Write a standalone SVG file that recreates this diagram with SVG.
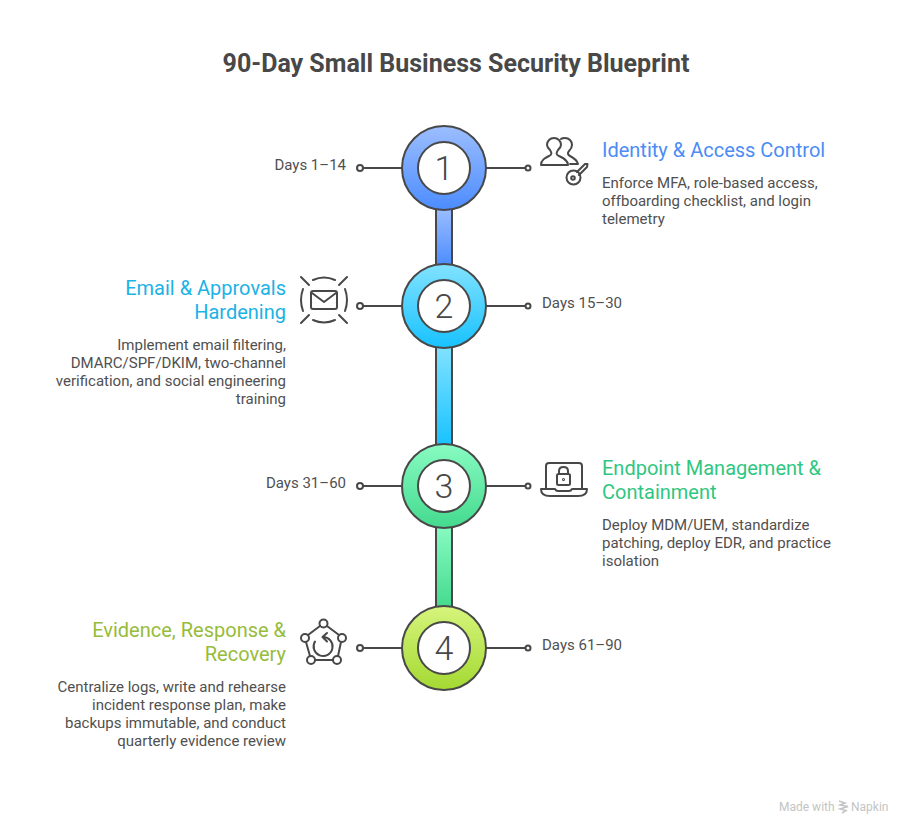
<svg xmlns="http://www.w3.org/2000/svg" width="912" height="834" viewBox="0 0 912 834">
<style>
text{font-family:Roboto,"Liberation Sans",sans-serif}
.title{font-size:25px;font-weight:700;fill:#484848;text-anchor:middle}
.h{font-size:20px}
.b{font-size:15px;fill:#505050}
.d{font-size:15px;fill:#505050}
.e{text-anchor:end}
.n{font-size:34px;font-weight:300;fill:#484848;text-anchor:middle}
.wm{font-size:12px;fill:#c4c4c4}
.l{fill:none;stroke:#484848;stroke-width:2}
.ic{fill:none;stroke:#484848;stroke-width:2;stroke-linecap:round;stroke-linejoin:round}
.dot{fill:#fff;stroke:#484848;stroke-width:2}
.o{stroke:#484848;stroke-width:2}
.in{fill:#fff;stroke:#484848;stroke-width:2}
</style>
<defs>
<linearGradient id="g1" x1="0" y1="0" x2="0" y2="1"><stop offset="0" stop-color="#9CBEFF"/><stop offset="1" stop-color="#4C8CFF"/></linearGradient>
<linearGradient id="g2" x1="0" y1="0" x2="0" y2="1"><stop offset="0" stop-color="#82E2FF"/><stop offset="1" stop-color="#18C2FF"/></linearGradient>
<linearGradient id="g3" x1="0" y1="0" x2="0" y2="1"><stop offset="0" stop-color="#88FBC2"/><stop offset="1" stop-color="#44DA8E"/></linearGradient>
<linearGradient id="g4" x1="0" y1="0" x2="0" y2="1"><stop offset="0" stop-color="#D6F47C"/><stop offset="1" stop-color="#A4D932"/></linearGradient>
</defs>
<rect width="912" height="834" fill="#fff"/>
<text class="title" x="456" y="72">90-Day Small Business Security Blueprint</text>
<g id="connectors">
<rect class="o" x="436" y="208" width="16" height="58" fill="url(#g1)"/>
<rect class="o" x="436" y="346" width="16" height="100" fill="url(#g2)"/>
<rect class="o" x="436" y="526" width="16" height="82" fill="url(#g3)"/>
<path class="l" d="M362 168H402M486 168H526M362 306H402M486 306H526M362 486H402M486 486H526M362 648H402M486 648H526"/>
<circle class="dot" cx="360" cy="168" r="3"/><circle class="dot" cx="528" cy="168" r="2.500"/>
<circle class="dot" cx="360" cy="306" r="3"/><circle class="dot" cx="528" cy="306" r="2.500"/>
<circle class="dot" cx="360" cy="486" r="3"/><circle class="dot" cx="528" cy="486" r="2.500"/>
<circle class="dot" cx="360" cy="648" r="3"/><circle class="dot" cx="528" cy="648" r="2.500"/>
</g>
<g id="node1">
<circle class="o" cx="444" cy="168" r="42" fill="url(#g1)"/><circle class="in" cx="444" cy="168" r="26"/>
<text class="n" x="444" y="180">1</text>
<text class="d e" x="346" y="170">Days 1–14</text>
<text class="h" x="602" y="157" fill="#4C8CF5">Identity &amp; Access Control</text>
<text class="b" x="602" y="188">Enforce MFA, role-based access,</text>
<text class="b" x="602" y="206">offboarding checklist, and login</text>
<text class="b" x="602" y="224">telemetry</text>
<g class="ic">
<path d="M541 165C541 160 545 158 549 156C552 155 552 153 550 150C548 148 547 146 547 145C547 141 550 138 554 138C558 138 561 141 561 145C561 147 560 148 558 150C556 153 556 155 559 156C563 158 568 160 568 165Z"/>
<path d="M561 139C562 138 563 138 565 138C569 138 572 141 572 145C572 147 571 149 569 151C567 153 568 155 570 156C574 158 577 160 578 164H570"/>
<circle cx="573.500" cy="177.500" r="7"/><circle cx="573" cy="178" r="1.800"/>
<path d="M577 172L585 164L587.500 164L587 167L584 170L581 173L579 175"/>
</g>
</g>
<g id="node2">
<circle class="o" cx="444" cy="306" r="42" fill="url(#g2)"/><circle class="in" cx="444" cy="306" r="26"/>
<text class="n" x="444" y="318">2</text>
<text class="d" x="542" y="308">Days 15–30</text>
<text class="h e" x="286" y="295" fill="#1CB2E4">Email &amp; Approvals</text>
<text class="h e" x="286" y="319" fill="#1CB2E4">Hardening</text>
<text class="b e" x="286" y="350">Implement email filtering,</text>
<text class="b e" x="286" y="368">DMARC/SPF/DKIM, two-channel</text>
<text class="b e" x="286" y="386">verification, and social engineering</text>
<text class="b e" x="286" y="404">training</text>
<g class="ic">
<rect x="311" y="291" width="26" height="18" rx="2"/>
<path d="M312 293L324 302L336 293"/>
<path d="M301 277L309 285M347 277L339 285M301 323L309 315M347 323L339 315"/>
<path d="M313 280Q324 275 335 280M313 320Q324 325 335 320M303 289Q299 300 303 311M345 289Q349 300 345 311"/>
</g>
</g>
<g id="node3">
<circle class="o" cx="444" cy="486" r="42" fill="url(#g3)"/><circle class="in" cx="444" cy="486" r="26"/>
<text class="n" x="444" y="498">3</text>
<text class="d e" x="346" y="488">Days 31–60</text>
<text class="h" x="602" y="475" fill="#2FC77F">Endpoint Management &amp;</text>
<text class="h" x="602" y="499" fill="#2FC77F">Containment</text>
<text class="b" x="602" y="530">Deploy MDM/UEM, standardize</text>
<text class="b" x="602" y="548">patching, deploy EDR, and practice</text>
<text class="b" x="602" y="566">isolation</text>
<g class="ic">
<path d="M546 488V466Q546 463 549 463H579Q582 463 582 466V488"/>
<path d="M541 489H555Q556 491 558 491H569Q571 491 572 489H587Q587 496 578 496H550Q541 496 541 489Z"/>
<rect x="557" y="474" width="13" height="11" rx="1.500"/>
<path d="M559 474V471Q559 467 563.500 467Q568 467 568 471V474"/>
<circle cx="563.500" cy="479.500" r="0.500"/>
</g>
</g>
<g id="node4">
<circle class="o" cx="444" cy="648" r="42" fill="url(#g4)"/><circle class="in" cx="444" cy="648" r="26"/>
<text class="n" x="444" y="660">4</text>
<text class="d" x="542" y="650">Days 61–90</text>
<text class="h e" x="286" y="637" fill="#97BC3A">Evidence, Response &amp;</text>
<text class="h e" x="286" y="661" fill="#97BC3A">Recovery</text>
<text class="b e" x="286" y="692">Centralize logs, write and rehearse</text>
<text class="b e" x="286" y="710">incident response plan, make</text>
<text class="b e" x="286" y="728">backups immutable, and conduct</text>
<text class="b e" x="286" y="746">quarterly evidence review</text>
<g class="ic">
<circle cx="323.500" cy="623.500" r="4"/><circle cx="305" cy="638" r="4"/><circle cx="342" cy="638" r="4"/><circle cx="311" cy="660" r="4"/><circle cx="337" cy="660" r="4"/>
<path d="M320 626L308 635M327 626L339 635M306 642L310 656M341 642L338 656M315 660H333"/>
<path d="M323 637A9.500 9.500 0 1 1 315 641.500M327 633L322.500 637L327 641.500"/>
</g>
</g>
<g id="watermark">
<text class="wm" x="779" y="811">Made with</text>
<path d="M839 801L845 803L840 805L848 806.500L840 809L846 810.500L842 813" stroke="#c4c4c4" stroke-width="1.500" fill="none"/>
<text class="wm" x="851" y="811">Napkin</text>
</g>
</svg>
